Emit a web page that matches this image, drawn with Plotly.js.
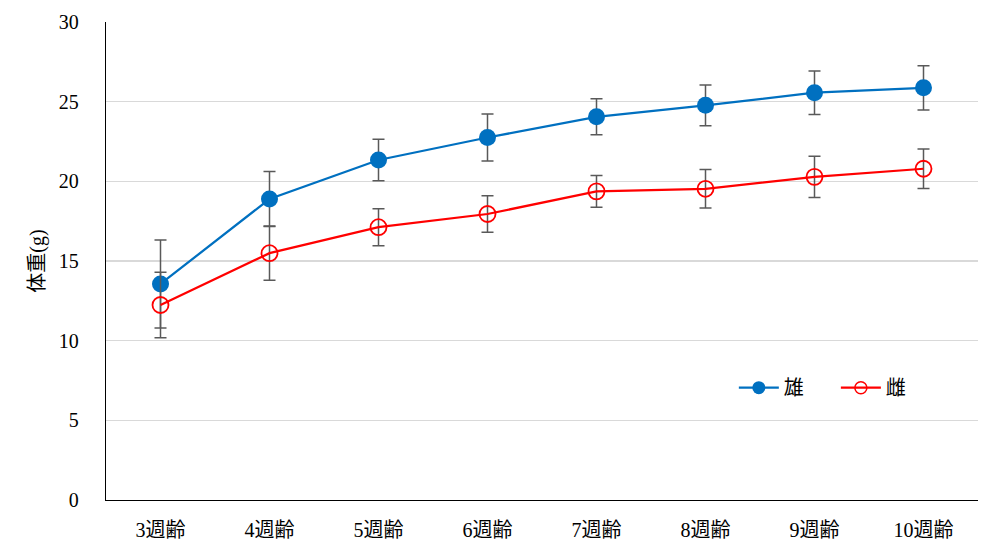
<!DOCTYPE html>
<html>
<head>
<meta charset="utf-8">
<script src="https://cdn.plot.ly/plotly-3.0.1.min.js"></script>
<style>html,body{margin:0;padding:0;background:#fff;}#chart{width:1000px;height:555px;}</style>
</head>
<body>
<div id="chart"></div>
<script>
const categories = ["3週齢","4週齢","5週齢","6週齢","7週齢","8週齢","9週齢","10週齢"];
const maleMean = [13.56, 18.89, 21.34, 22.75, 24.05, 24.77, 25.56, 25.87];
const maleSD   = [2.76, 1.72, 1.30, 1.47, 1.13, 1.28, 1.37, 1.39];
const femaleMean = [12.24, 15.49, 17.12, 17.95, 19.37, 19.53, 20.28, 20.79];
const femaleSD   = [2.05, 1.70, 1.16, 1.15, 1.00, 1.21, 1.30, 1.24];
const seriesNames = ["雄", "雌"];

const fontFam = "'Liberation Serif', 'Times New Roman', 'Noto Sans CJK JP', serif";

const errStyle = {type: 'data', visible: true, color: '#595959', thickness: 1.5, width: 6};
const maleColor = '#0070C0', femaleColor = '#FF0000';

const traces = [
  {
    x: categories, y: maleMean, name: seriesNames[0], type: 'scatter', mode: 'lines+markers',
    showlegend: false,
    line: {color: maleColor, width: 2.25},
    marker: {symbol: 'circle', size: 17, color: maleColor},
    error_y: Object.assign({array: maleSD}, errStyle)
  },
  {
    x: categories, y: femaleMean, name: seriesNames[1], type: 'scatter', mode: 'lines+markers',
    showlegend: false,
    line: {color: femaleColor, width: 2.25},
    marker: {symbol: 'circle-open', size: 16, color: femaleColor, line: {width: 1.8}},
    error_y: Object.assign({array: femaleSD}, errStyle)
  },
  // legend entries (same series, drawn only in the legends)
  {
    x: [null], y: [null], name: seriesNames[0], type: 'scatter', mode: 'lines+markers',
    legend: 'legend', showlegend: true, hoverinfo: 'skip',
    line: {color: maleColor, width: 2.25},
    marker: {symbol: 'circle', size: 13, color: maleColor}
  },
  {
    x: [null], y: [null], name: seriesNames[1], type: 'scatter', mode: 'lines+markers',
    legend: 'legend2', showlegend: true, hoverinfo: 'skip',
    line: {color: femaleColor, width: 2.25},
    marker: {symbol: 'circle-open', size: 12, color: femaleColor, line: {width: 1.5}}
  }
];

const legendBase = {orientation: 'h', xanchor: 'left', yanchor: 'middle',
  font: {family: fontFam, size: 20}, itemwidth: 40, bgcolor: 'rgba(0,0,0,0)'};

const layout = {
  width: 1000, height: 555,
  margin: {l: 106, r: 22, t: 22, b: 55},
  paper_bgcolor: '#fff', plot_bgcolor: '#fff',
  font: {family: fontFam, size: 20, color: '#000'},
  showlegend: true,
  legend: Object.assign({x: 0.72, y: 0.235}, legendBase),
  legend2: Object.assign({x: 0.837, y: 0.235}, legendBase),
  xaxis: {
    type: 'category', range: [-0.5, 7.5],
    showline: true, linecolor: '#000', linewidth: 1.3,
    showgrid: false, ticks: '', ticklabelstandoff: 12,
    tickfont: {family: fontFam, size: 20}
  },
  yaxis: {
    range: [0, 30], dtick: 5, tick0: 0,
    showline: true, linecolor: '#000', linewidth: 1.3,
    showgrid: true, gridcolor: '#D9D9D9', gridwidth: 1.2,
    zeroline: false, ticks: '', ticklabelstandoff: 22,
    tickfont: {family: fontFam, size: 20},
    title: {text: '体重(g)', font: {family: fontFam, size: 20}, standoff: 8}
  }
};

Plotly.newPlot('chart', traces, layout, {displayModeBar: false, staticPlot: true});
</script>
</body>
</html>
